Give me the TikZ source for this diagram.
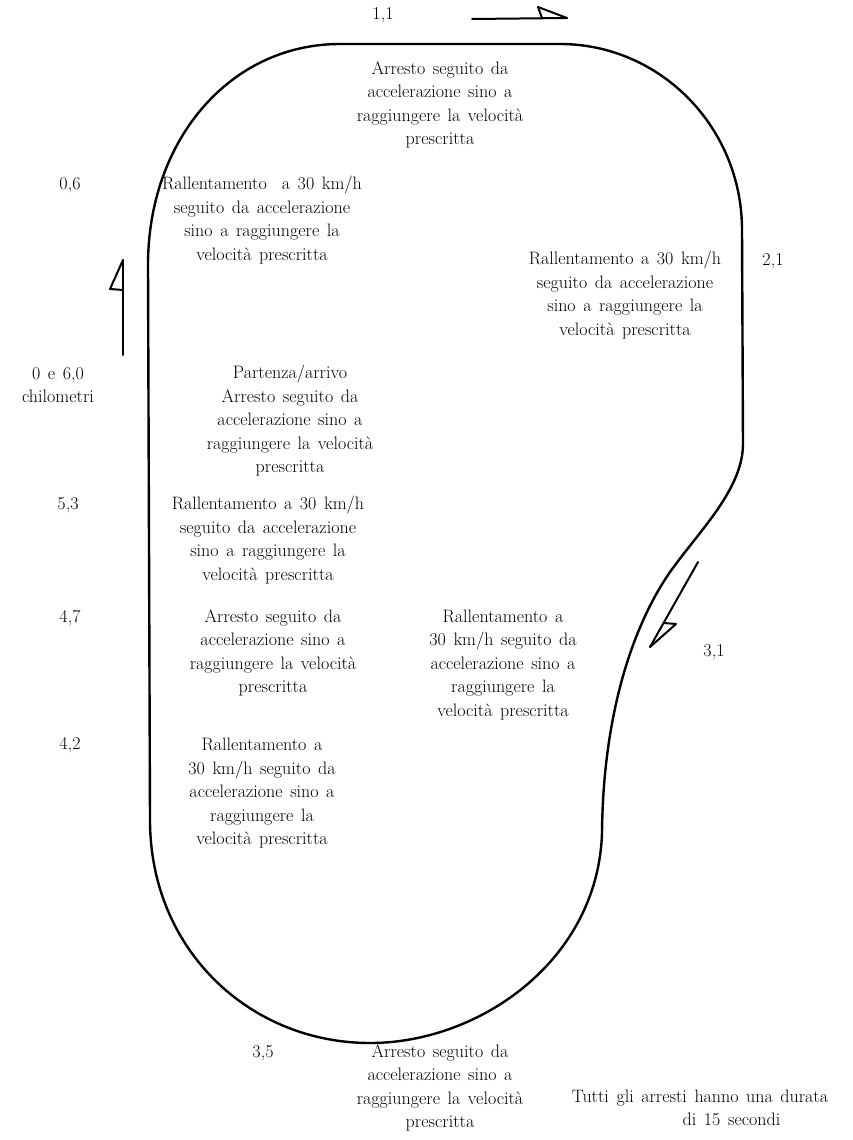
\documentclass[tikz,border=0pt]{standalone}
\usepackage{tikz}
\usetikzlibrary{calc}
\newcommand{\trackfont}{\fontsize{18}{23.5}\selectfont\spaceskip=0.42em plus 0.1em minus 0.05em\relax}

\begin{document}
\begin{tikzpicture}[x=1pt,y=-1pt, every node/.style={font=\trackfont, align=center, inner sep=0pt}]
  \tikzset{
    track/.style={line width=2.4pt, line join=round},
    flag/.style={line width=2pt, line join=round, line cap=round}
  }
  \newcommand{\flagarrow}[4]{
    \draw[flag] (#1) -- (#2);
    \draw[flag] (#2) -- (#3) -- (#4);
  }
  \useasboundingbox (0,0) rectangle (853,1140);

  \draw[track] (340,44) -- (560,44)
    .. controls (660,44) and (742,127) .. (742,230)
    -- (743,445)
    .. controls (742,490) and (700,530) .. (670,572)
    .. controls (630,630) and (603,720) .. (602,833)
    .. controls (598,960) and (480,1043) .. (370,1043)
    .. controls (250,1043) and (150,950) .. (150,820)
    -- (148,265)
    .. controls (148,140) and (230,44) .. cycle;

  \coordinate (a1) at (472,19);  \coordinate (a1tip) at (567,18);
  \coordinate (a1b) at (538,7);  \coordinate (a1c) at (542,18);
  \coordinate (a2) at (123,355); \coordinate (a2tip) at (123,260);
  \coordinate (a2b) at (110,289); \coordinate (a2c) at (123,290);
  \coordinate (a3) at (698,562); \coordinate (a3tip) at (650,647);
  \coordinate (a3b) at (676,624); \coordinate (a3c) at (664,623);
  \flagarrow{a1}{a1tip}{a1b}{a1c}
  \flagarrow{a2}{a2tip}{a2b}{a2c}
  \flagarrow{a3}{a3tip}{a3b}{a3c}

  \foreach \n/\pos/\km in {k11/{383,15}/{1,1}, k06/{70,185}/{0,6}, k21/{773,261}/{2,1},
                           k53/{68,505}/{5,3}, k47/{70,618}/{4,7}, k31/{714,652}/{3,1},
                           k42/{70,745}/{4,2}, k35/{263,1053}/{3,5}}
    \node (\n) at (\pos) {\km};
  \node (start) at (58,385) {0 e 6,0\\chilometri};

  \node (stop11) at (440,105) {Arresto seguito da\\accelerazione sino a\\raggiungere la velocità\\prescritta};
  \node (slow06) at (262,220) {Rallentamento\ \ a 30 km/h\\seguito da accelerazione\\sino a raggiungere la\\velocità prescritta};
  \node (slow21) at (625,295) {Rallentamento a 30 km/h\\seguito da accelerazione\\sino a raggiungere la\\velocità prescritta};
  \node (stop00) at (290,421) {Partenza/arrivo\\Arresto seguito da\\accelerazione sino a\\raggiungere la velocità\\prescritta};
  \node (slow53) at (268,540) {Rallentamento a 30 km/h\\seguito da accelerazione\\sino a raggiungere la\\velocità prescritta};
  \node (stop47) at (273,653) {Arresto seguito da\\accelerazione sino a\\raggiungere la velocità\\prescritta};
  \node (slow31) at (503,665) {Rallentamento a\\30 km/h seguito da\\accelerazione sino a\\raggiungere la\\velocità prescritta};
  \node (slow42) at (262,793) {Rallentamento a\\30 km/h seguito da\\accelerazione sino a\\raggiungere la\\velocità prescritta};
  \node (stop35) at (440,1088) {Arresto seguito da\\accelerazione sino a\\raggiungere la velocità\\prescritta};
  \node (note) at (700,1108) {Tutti gli arresti hanno una durata\\\hspace*{3.5em}di 15 secondi};
\end{tikzpicture}
\end{document}
